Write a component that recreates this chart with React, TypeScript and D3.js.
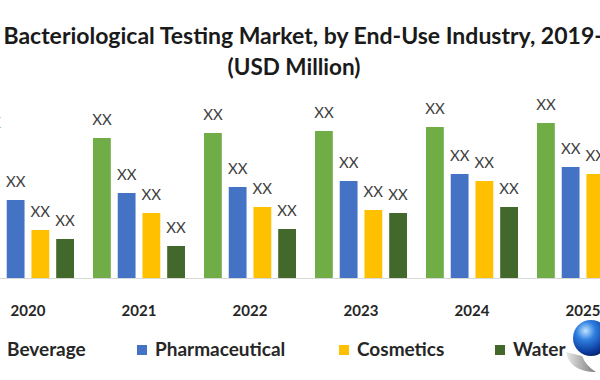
import React from "react";
import * as d3 from "d3";

const years = ["2020", "2021", "2022", "2023", "2024", "2025"];
const seriesNames = ["Beverage", "Pharmaceutical", "Cosmetics", "Water"];
const beverage = [137, 140, 145, 147, 151, 155];
const pharmaceutical = [78, 85, 91, 97, 104, 111];
const cosmetics = [48, 65, 71, 68, 97, 104];
const water = [39, 32, 49, 65, 71, 76];
const colors = ["#70AD47", "#4472C4", "#FFC000", "#43682B"];
const titleLine1 = "Global Bacteriological Testing Market, by End-Use Industry, 2019-2027";
const titleLine2 = "(USD Million)";
const valueLabel = "XX";

const W = 600;
const H = 380;
const FONT = "Lato, 'Open Sans', sans-serif";

export default function App() {
  const seriesValues = [beverage, pharmaceutical, cosmetics, water];
  const x = d3.scaleBand<string>().domain(years).range([-27.5, 638.5]).paddingInner(19 / 111).paddingOuter(19 / 222);
  const xs = d3.scaleBand<string>().domain(seriesNames).range([0, x.bandwidth()]).paddingInner(0.28).paddingOuter(0);
  const y = d3.scaleLinear().domain([0, 200]).range([278, 78]);

  const legendX = [-11, 137, 339, 495];

  return (
    <svg width={W} height={H} style={{ position: "absolute", left: 0, top: 0, background: "#fff" }} fontFamily={FONT}>
      <defs>
        <radialGradient id="globe" cx="0.35" cy="0.3" r="0.75">
          <stop offset="0" stopColor="#bfe3ff" />
          <stop offset="0.35" stopColor="#2f7fe0" />
          <stop offset="0.8" stopColor="#0b3a9c" />
          <stop offset="1" stopColor="#062463" />
        </radialGradient>
        <linearGradient id="swoosh" x1="0" y1="0" x2="1" y2="0">
          <stop offset="0" stopColor="#e8e8e8" />
          <stop offset="1" stopColor="#7a7a7a" />
        </linearGradient>
      </defs>
      <rect x={0} y={0} width={W} height={H} fill="#fff" />
      <text x={294} y={44} textAnchor="middle" fontSize={23} fontWeight="bold" fill="#1a1a1a">{titleLine1}</text>
      <text x={294} y={75} textAnchor="middle" fontSize={22.5} fontWeight="bold" fill="#1a1a1a">{titleLine2}</text>

      <line x1={0} x2={W} y1={y(0) + 0.5} y2={y(0) + 0.5} stroke="#d9d9d9" strokeWidth={1} />

      {years.map((yr, i) => (
        <g key={yr} transform={`translate(${x(yr)},0)`}>
          {seriesNames.map((s, j) => {
            const v = seriesValues[j][i];
            const bx = xs(s)!;
            return (
              <g key={s}>
                <rect x={bx} y={y(v)} width={xs.bandwidth()} height={y(0) - y(v)} fill={colors[j]} />
                <text x={bx + xs.bandwidth() / 2} y={y(v) - 13} textAnchor="middle" fontSize={15} fill="#404040">{valueLabel}</text>
              </g>
            );
          })}
          <text x={x.bandwidth() / 2} y={316} textAnchor="middle" fontSize={15} fontWeight="bold" fill="#262626">{yr}</text>
        </g>
      ))}

      {seriesNames.map((s, j) => (
        <g key={s} transform={`translate(${legendX[j]},0)`}>
          <rect x={0} y={345} width={10} height={10} fill={colors[j]} />
          <text x={18} y={356} fontSize={19} fontWeight="bold" fill="#262626">{s}</text>
        </g>
      ))}

      <path d="M 566 352 Q 570 372 596 372 Q 586 366 582 356 Z" fill="url(#swoosh)" />
      <circle cx={591} cy={338} r={18} fill="url(#globe)" />
    </svg>
  );
}
